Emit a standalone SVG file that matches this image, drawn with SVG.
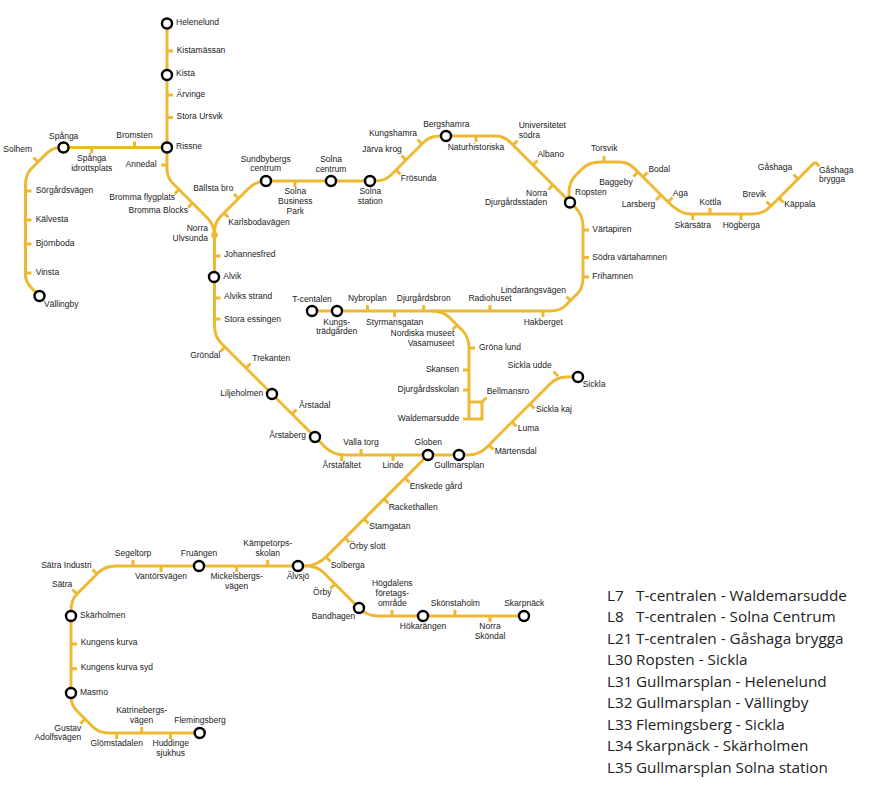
<svg xmlns="http://www.w3.org/2000/svg" width="875" height="800" viewBox="0 0 875 800">
<style>
.l{fill:none;stroke:#edb932;stroke-width:3}
.t{fill:none;stroke:#edb932;stroke-width:3}
.r{fill:#fff;stroke:#000;stroke-width:2.4}
text{font-family:"Liberation Sans",Arial,sans-serif;font-size:8.5px;fill:#222}
.m{text-anchor:middle}
.e{text-anchor:end}
.k{font-family:"Open Sans","Noto Sans",sans-serif;font-size:15.3px;fill:#222}
</style>
<rect width="875" height="800" fill="#fff"/>
<g id="connectors">
<path class="l" d="M167,23V169Q167,177.500 173,183.500L207,217.500Q214.500,225 214.500,235V325Q214.500,336.500 221,343L325,447Q333,455 345,455H468Q479,455 487,447L550,384Q557,377 566,377H578"/>
<path class="l" d="M167,147.500H60Q52.500,147.500 46,154L31,169Q25.500,174.500 25.500,185V275Q25.500,282 32,288.500L39.500,296"/>
<path class="l" d="M214.500,235V232Q214.500,222.500 221,216L248,189Q256,181 266,181H375Q385,181 391,175L424,142Q430,136 440,136H495Q504,136 510,142L575,207Q583,215 583,226V277Q583,288 578,293L565,306Q560,311 550,311H312"/>
<path class="l" d="M569,202V192Q569,182 576,175L582,169Q589,162 600,162H620Q628,162 635,169L668,202Q680,214 690,214H753Q763,214 770,207L815,162"/>
<path class="l" d="M432,311Q443,311 450,318L462,330Q469,337 469,348V419M463,419H482V402H469"/>
<path class="l" d="M428,455L327,556Q317,566 305,566H298"/>
<path class="l" d="M298,566H115Q105,566 98,573L77,594Q71,600 71,611V696Q71,705 77,711L93,727Q99,733 109,733H199"/>
<path class="l" d="M305,566Q317,566 323,572L359,608Q367,616 378,616H524"/>
</g>
<g id="helenelund"><circle class="r" cx="167" cy="23.500" r="5"/><text x="176" y="25">Helenelund</text></g>
<g id="kistamassan"><path class="t" d="M167,51h6"/><text x="176.700" y="53">Kistamässan</text></g>
<g id="kista"><circle class="r" cx="167" cy="75" r="5"/><text x="176" y="76">Kista</text></g>
<g id="arvinge"><path class="t" d="M167,95h6"/><text x="176.500" y="97">Ärvinge</text></g>
<g id="stora-ursvik"><path class="t" d="M167,117.500h6"/><text x="176.500" y="119">Stora Ursvik</text></g>
<g id="rissne"><circle class="r" cx="167" cy="147.500" r="5"/><text x="176" y="149">Rissne</text></g>
<g id="bromsten"><path class="t" d="M134.500,147.500v-6"/><text class="m" x="134.500" y="138">Bromsten</text></g>
<g id="spanga-idrottsplats"><path class="t" d="M91.700,147.500v6"/><text class="m" x="91.700" y="161">Spånga</text><text class="m" x="91.700" y="171">idrottsplats</text></g>
<g id="spanga"><circle class="r" cx="63.500" cy="147.500" r="5"/><text class="m" x="63.700" y="138.700">Spånga</text></g>
<g id="solhem"><path class="t" d="M38,162l-4.500,-4.500"/><text class="m" x="17.700" y="152">Solhem</text></g>
<g id="annedal"><path class="t" d="M167,165h-6"/><text class="e" x="156.700" y="166.700">Annedal</text></g>
<g id="sorgardsvagen"><path class="t" d="M25.500,191h6"/><text x="35.700" y="193">Sörgårdsvägen</text></g>
<g id="kalvesta"><path class="t" d="M25.500,220h6"/><text x="35.700" y="221.700">Kälvesta</text></g>
<g id="bjornboda"><path class="t" d="M25.500,244h6"/><text x="35.700" y="246">Björnboda</text></g>
<g id="vinsta"><path class="t" d="M25.500,273h6"/><text x="35.700" y="275">Vinsta</text></g>
<g id="vallingby"><circle class="r" cx="39.500" cy="296" r="5"/><text x="44" y="307">Vällingby</text></g>
<g id="bromma-flygplats"><path class="t" d="M179,189.500l-4.500,4.500"/><text class="e" x="175" y="200">Bromma flygplats</text></g>
<g id="bromma-blocks"><path class="t" d="M192.500,203l-4.500,4.500"/><text class="e" x="188" y="213">Bromma Blocks</text></g>
<g id="ballsta-bro"><path class="t" d="M238.500,198.500l-4.500,-4.500"/><text class="m" x="213.300" y="191">Bällsta bro</text></g>
<g id="karlsbodavagen"><path class="t" d="M224,213l4.500,4.500"/><text x="228.300" y="225">Karlsbodavägen</text></g>
<g id="sundbybergs-centrum"><circle class="r" cx="266" cy="181" r="5"/><text class="m" x="265.700" y="162">Sundbybergs</text><text class="m" x="265.700" y="171.300">centrum</text></g>
<g id="solna-business-park"><path class="t" d="M295,181v6"/><text class="m" x="295.300" y="194">Solna</text><text class="m" x="295.300" y="204">Business</text><text class="m" x="295.300" y="213.500">Park</text></g>
<g id="solna-centrum"><circle class="r" cx="331" cy="181" r="5"/><text class="m" x="331" y="162">Solna</text><text class="m" x="331" y="171.700">centrum</text></g>
<g id="solna-station"><circle class="r" cx="370" cy="181" r="5"/><text class="m" x="370.300" y="194">Solna</text><text class="m" x="370.300" y="203.700">station</text></g>
<g id="norra-ulvsunda"><circle cx="214.500" cy="235" r="3.300" fill="#edb932"/><text class="e" x="208" y="231.300">Norra</text><text class="e" x="208" y="240.700">Ulvsunda</text></g>
<g id="johannesfred"><path class="t" d="M214.500,256h6"/><text x="224" y="257">Johannesfred</text></g>
<g id="alvik"><circle class="r" cx="214" cy="277" r="5"/><text x="223.300" y="279">Alvik</text></g>
<g id="alviks-strand"><path class="t" d="M214.500,298h6"/><text x="224" y="299">Alviks strand</text></g>
<g id="stora-essingen"><path class="t" d="M214.500,319h6"/><text x="224.300" y="322">Stora essingen</text></g>
<g id="grondal"><path class="t" d="M225,347l-4.500,4.500"/><text class="m" x="205.300" y="357.700">Gröndal</text></g>
<g id="trekanten"><path class="t" d="M246,368l4.500,-4.500"/><text class="m" x="271.300" y="361">Trekanten</text></g>
<g id="liljeholmen"><circle class="r" cx="272" cy="394" r="5"/><text class="e" x="263.300" y="395.700">Liljeholmen</text></g>
<g id="arstadal"><path class="t" d="M292,414l4.500,-4.500"/><text class="m" x="314.700" y="407.700">Årstadal</text></g>
<g id="arstaberg"><circle class="r" cx="315" cy="437" r="5"/><text class="e" x="306" y="438.300">Årstaberg</text></g>
<g id="arstafaltet"><path class="t" d="M341.700,455v6"/><text class="m" x="341.700" y="468">Årstafältet</text></g>
<g id="valla-torg"><path class="t" d="M361,455v-6"/><text class="m" x="361" y="445">Valla torg</text></g>
<g id="linde"><path class="t" d="M393,455v6"/><text class="m" x="393" y="468">Linde</text></g>
<g id="globen"><circle class="r" cx="428" cy="455" r="5"/><text class="m" x="428.300" y="445.300">Globen</text></g>
<g id="gullmarsplan"><circle class="r" cx="459" cy="455" r="5"/><text class="m" x="459.300" y="467.700">Gullmarsplan</text></g>
<g id="martensdal"><path class="t" d="M489,445l4.500,4.500"/><text x="494.700" y="453.700">Märtensdal</text></g>
<g id="luma"><path class="t" d="M512,422l4.500,4.500"/><text x="517.700" y="431">Luma</text></g>
<g id="sickla-kaj"><path class="t" d="M530,404l4.500,4.500"/><text x="536" y="412.300">Sickla kaj</text></g>
<g id="sickla-udde"><path class="t" d="M558,376l-4.500,-4.500"/><text class="m" x="529.700" y="368.300">Sickla udde</text></g>
<g id="sickla"><circle class="r" cx="578" cy="377" r="5"/><text x="582.700" y="387.300">Sickla</text></g>
<g id="t-centralen"><circle class="r" cx="312" cy="311" r="5"/><text class="m" x="312" y="302">T-centalen</text></g>
<g id="kungstradgarden"><circle class="r" cx="337" cy="311" r="5"/><text class="m" x="336.700" y="324.700">Kungs-</text><text class="m" x="336.700" y="334">trädgården</text></g>
<g id="nybroplan"><path class="t" d="M367.500,311v-6"/><text class="m" x="367.300" y="301.300">Nybroplan</text></g>
<g id="styrmansgatan"><path class="t" d="M394.500,311v6"/><text class="m" x="394.700" y="325">Styrmansgatan</text></g>
<g id="djurgardsbron"><path class="t" d="M423.700,311v-6"/><text class="m" x="423.700" y="301.300">Djurgårdsbron</text></g>
<g id="radiohuset"><path class="t" d="M490,311v-6"/><text class="m" x="490" y="301.300">Radiohuset</text></g>
<g id="hakberget"><path class="t" d="M543,311v6"/><text class="m" x="543.300" y="325">Hakberget</text></g>
<g id="lindarangsvagen"><path class="t" d="M571,301l-4.500,-4.500"/><text class="m" x="533.300" y="292.700">Lindarängsvägen</text></g>
<g id="nordiska-museet-vasamuseet"><path class="t" d="M457,325l-4.500,4.500"/><text class="e" x="454.300" y="336">Nordiska museet</text><text class="e" x="454.300" y="346">Vasamuseet</text></g>
<g id="grona-lund"><path class="t" d="M469,348h6"/><text x="479" y="349.700">Gröna lund</text></g>
<g id="skansen"><path class="t" d="M469,370h-6"/><text class="e" x="459" y="371.700">Skansen</text></g>
<g id="djurgardsskolan"><path class="t" d="M469,390h-6"/><text class="e" x="459" y="391.700">Djurgårdsskolan</text></g>
<g id="bellmansro"><path class="t" d="M482,402l4.500,-4.500"/><text x="486.700" y="394">Bellmansro</text></g>
<g id="waldemarsudde"><text class="e" x="459.300" y="420.700">Waldemarsudde</text></g>
<g id="frosunda"><path class="t" d="M396,170l4.500,4.500"/><text x="400.700" y="181.300">Frösunda</text></g>
<g id="jarva-krog"><path class="t" d="M406,160l-4.500,-4.500"/><text class="m" x="382" y="151.700">Järva krog</text></g>
<g id="kungshamra"><path class="t" d="M422,144l-4.500,-4.500"/><text class="m" x="393" y="136">Kungshamra</text></g>
<g id="bergshamra"><circle class="r" cx="446" cy="136" r="5"/><text class="m" x="446.300" y="127">Bergshamra</text></g>
<g id="naturhistoriska"><path class="t" d="M476,136v6"/><text class="m" x="476" y="150">Naturhistoriska</text></g>
<g id="universitetet-sodra"><path class="t" d="M513,145l4.500,-4.500"/><text x="518.700" y="128">Universitetet</text><text x="518.700" y="138">södra</text></g>
<g id="albano"><path class="t" d="M533,165l4.500,-4.500"/><text class="m" x="550.700" y="157">Albano</text></g>
<g id="norra-djurgardsstaden"><path class="t" d="M553,185l-4.500,4.500"/><text class="e" x="547.300" y="195.700">Norra</text><text class="e" x="547.300" y="205.300">Djurgårdsstaden</text></g>
<g id="ropsten"><circle class="r" cx="570" cy="202.500" r="5"/><text x="575" y="194.700">Ropsten</text></g>
<g id="vartapiren"><path class="t" d="M583,230h6"/><text x="592.300" y="232">Värtapiren</text></g>
<g id="sodra-vartahamnen"><path class="t" d="M583,257.500h6"/><text x="592.300" y="259.700">Södra värtahamnen</text></g>
<g id="frihamnen"><path class="t" d="M583,277h6"/><text x="592.300" y="279">Frihamnen</text></g>
<g id="torsvik"><path class="t" d="M604,162v-6"/><text class="m" x="604.300" y="151.300">Torsvik</text></g>
<g id="baggeby"><path class="t" d="M638,172l-4.500,4.500"/><text class="e" x="632.700" y="184.700">Baggeby</text></g>
<g id="bodal"><path class="t" d="M643,177l4.500,-4.500"/><text class="m" x="659.300" y="171.700">Bodal</text></g>
<g id="larsberg"><path class="t" d="M660.500,195.500l-4.500,4.500"/><text class="e" x="655.300" y="207">Larsberg</text></g>
<g id="aga"><path class="t" d="M668,202l4.500,-4.500"/><text class="m" x="680.300" y="195.700">Aga</text></g>
<g id="skarsatra"><path class="t" d="M692.700,214v6"/><text class="m" x="692.700" y="228">Skärsätra</text></g>
<g id="kottla"><path class="t" d="M710,214v-6"/><text class="m" x="710.300" y="204.700">Kottla</text></g>
<g id="hogberga"><path class="t" d="M741,214v6"/><text class="m" x="741.300" y="228">Högberga</text></g>
<g id="brevik"><path class="t" d="M771,206l-4.500,-4.500"/><text class="m" x="754.300" y="197">Brevik</text></g>
<g id="kappala"><path class="t" d="M779,198l4.500,4.500"/><text x="784.300" y="207">Käppala</text></g>
<g id="gashaga"><path class="t" d="M798,179l-4.500,-4.500"/><text class="e" x="792.300" y="170">Gåshaga</text></g>
<g id="gashaga-brygga"><path class="t" d="M815,162l4.500,4.500"/><text x="819" y="172.700">Gåshaga</text><text x="819" y="182.300">brygga</text></g>
<g id="enskede-gard"><path class="t" d="M405,478l4.500,4.500"/><text x="409.700" y="489">Enskede gård</text></g>
<g id="rackethallen"><path class="t" d="M384,499l4.500,4.500"/><text x="388.700" y="509.700">Rackethallen</text></g>
<g id="stamgatan"><path class="t" d="M364,519l4.500,4.500"/><text x="369.300" y="529.300">Stamgatan</text></g>
<g id="orby-slott"><path class="t" d="M345,538l4.500,4.500"/><text x="349.300" y="549.300">Örby slott</text></g>
<g id="solberga"><path class="t" d="M326,557l4.500,4.500"/><text x="330.700" y="568.300">Solberga</text></g>
<g id="alvsjo"><circle class="r" cx="298" cy="566" r="5"/><text class="m" x="298" y="579">Älvsjö</text></g>
<g id="orby"><path class="t" d="M335,584l-4.500,4.500"/><text class="m" x="322.300" y="595.300">Örby</text></g>
<g id="bandhagen"><circle class="r" cx="359" cy="608" r="5"/><text class="e" x="355.300" y="618.700">Bandhagen</text></g>
<g id="hogdalens-foretagsomrade"><path class="t" d="M392,616v-6"/><text class="m" x="392.300" y="586.300">Högdalens</text><text class="m" x="392.300" y="596">företags-</text><text class="m" x="392.300" y="606">område</text></g>
<g id="hokarangen"><circle class="r" cx="423" cy="616" r="5"/><text class="m" x="423" y="629">Hökarängen</text></g>
<g id="skonstaholm"><path class="t" d="M455,616v-6"/><text class="m" x="455.300" y="606">Skönstaholm</text></g>
<g id="norra-skondal"><path class="t" d="M490,616v6"/><text class="m" x="490" y="629">Norra</text><text class="m" x="490" y="639">Sköndal</text></g>
<g id="skarpnack"><circle class="r" cx="524" cy="616" r="5"/><text class="m" x="524.300" y="606">Skarpnäck</text></g>
<g id="kampetorpsskolan"><path class="t" d="M267.700,566v-6"/><text class="m" x="267.700" y="546.300">Kämpetorps-</text><text class="m" x="267.700" y="556">skolan</text></g>
<g id="mickelsbergsvagen"><path class="t" d="M236.700,566v6"/><text class="m" x="236.700" y="579.300">Mickelsbergs-</text><text class="m" x="236.700" y="589">vägen</text></g>
<g id="fruangen"><circle class="r" cx="199" cy="566" r="5"/><text class="m" x="199" y="556.300">Fruängen</text></g>
<g id="vantorsvagen"><path class="t" d="M161,566v6"/><text class="m" x="161" y="579">Vantörsvägen</text></g>
<g id="segeltorp"><path class="t" d="M133,566v-6"/><text class="m" x="133" y="556">Segeltorp</text></g>
<g id="satra-industri"><path class="t" d="M97,574l-4.500,-4.500"/><text class="e" x="91.700" y="568">Sätra Industri</text></g>
<g id="satra"><path class="t" d="M77,594l-4.500,-4.500"/><text class="e" x="72.300" y="587.300">Sätra</text></g>
<g id="skarholmen"><circle class="r" cx="71" cy="616" r="5"/><text x="80" y="618">Skärholmen</text></g>
<g id="kungens-kurva"><path class="t" d="M71,644h6"/><text x="80.700" y="645.300">Kungens kurva</text></g>
<g id="kungens-kurva-syd"><path class="t" d="M71,668.700h6"/><text x="80.700" y="670.300">Kungens kurva syd</text></g>
<g id="masmo"><circle class="r" cx="71" cy="693" r="5"/><text x="80" y="694.700">Masmo</text></g>
<g id="gustav-adolfsvagen"><path class="t" d="M85,719l-4.500,4.500"/><text class="e" x="81.300" y="730.700">Gustav</text><text class="e" x="81.300" y="740.300">Adolfsvägen</text></g>
<g id="glomstadalen"><path class="t" d="M116.700,733v6"/><text class="m" x="116.700" y="746">Glömstadalen</text></g>
<g id="katrinebergsvagen"><path class="t" d="M141.700,733v-6"/><text class="m" x="141.700" y="713.300">Katrinebergs-</text><text class="m" x="141.700" y="723">vägen</text></g>
<g id="huddinge-sjukhus"><path class="t" d="M170.500,733v6"/><text class="m" x="170.700" y="746">Huddinge</text><text class="m" x="170.700" y="756">sjukhus</text></g>
<g id="flemingsberg"><circle class="r" cx="199.700" cy="733" r="5"/><text class="m" x="200" y="723.300">Flemingsberg</text></g>
<g id="legend">
<text class="k" x="607" y="600.500">L7 <tspan x="636">T-centralen - Waldemarsudde</tspan></text>
<text class="k" x="607" y="622">L8 <tspan x="636">T-centralen - Solna Centrum</tspan></text>
<text class="k" x="607" y="643.500">L21 <tspan x="636">T-centralen - Gåshaga brygga</tspan></text>
<text class="k" x="607" y="665">L30 <tspan x="636">Ropsten - Sickla</tspan></text>
<text class="k" x="607" y="686.500">L31 <tspan x="636">Gullmarsplan - Helenelund</tspan></text>
<text class="k" x="607" y="708">L32 <tspan x="636">Gullmarsplan - Vällingby</tspan></text>
<text class="k" x="607" y="729.500">L33 <tspan x="636">Flemingsberg - Sickla</tspan></text>
<text class="k" x="607" y="751">L34 <tspan x="636">Skarpnäck - Skärholmen</tspan></text>
<text class="k" x="607" y="772.500">L35 <tspan x="636">Gullmarsplan Solna station</tspan></text>
</g>
</svg>
